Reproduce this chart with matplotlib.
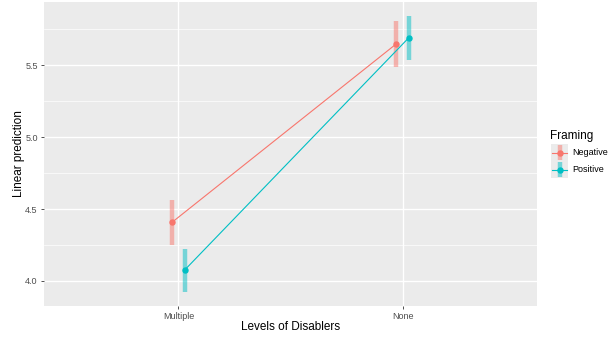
import numpy as np
import matplotlib.pyplot as plt

plt.rcParams['font.family'] = ['Liberation Sans', 'DejaVu Sans']

# data
levels = ['Multiple', 'None']
groups = ['Negative', 'Positive']
pred = {'Negative': [4.41, 5.65], 'Positive': [4.075, 5.69]}
lower = {'Negative': [4.25, 5.49], 'Positive': [3.92, 5.535]}
upper = {'Negative': [4.56, 5.81], 'Positive': [4.22, 5.84]}
colors = {'Negative': '#F8766D', 'Positive': '#00BFC4'}
dodge = {'Negative': -0.027, 'Positive': 0.027}

fig = plt.figure(figsize=(6.12, 3.37), dpi=100)
ax = fig.add_axes([44 / 612, 31 / 337, 493 / 612, 304 / 337])
ax.set_facecolor('#EBEBEB')

xpos = np.arange(1, len(levels) + 1)
for g in groups:
    x = xpos + dodge[g]
    ax.vlines(x, lower[g], upper[g], color=colors[g], lw=3.2, alpha=0.5, zorder=3)
    ax.plot(x, pred[g], color=colors[g], lw=0.8, marker='o', ms=3.6, zorder=4)

ax.set_xticks(xpos)
ax.set_xticklabels(levels)
ax.set_yticks([4.0, 4.5, 5.0, 5.5])
ax.set_yticks([3.75, 4.25, 4.75, 5.25, 5.75], minor=True)
ax.set_xlim(0.4, 2.6)
ax.set_ylim(3.826, 5.94)
ax.grid(True, which='major', color='white', lw=1.0, zorder=0)
ax.grid(True, which='minor', axis='y', color='white', lw=0.5, zorder=0)
ax.set_axisbelow(True)
for s in ax.spines.values():
    s.set_visible(False)
ax.tick_params(which='major', length=2.5, width=0.6, color='#333333',
               labelsize=6.5, labelcolor='#4D4D4D', pad=2)
ax.tick_params(which='minor', length=0)
ax.set_xlabel('Levels of Disablers', fontsize=8.5, labelpad=0)
ax.set_ylabel('Linear prediction', fontsize=8.5)
ax.yaxis.set_label_coords(-0.038, 0.5)

# legend drawn in a pixel-space overlay
lax = fig.add_axes([0, 0, 1, 1], zorder=5)
lax.set_xlim(0, 612)
lax.set_ylim(337, 0)
lax.axis('off')
lax.text(550, 136, 'Framing', fontsize=8.5, va='center', ha='left')
for i, g in enumerate(groups):
    cy = 152.5 + 17 * i
    lax.add_patch(plt.Rectangle((551, cy - 8.5), 17, 17, color='#EBEBEB', lw=0))
    lax.vlines(559.5, cy - 7.5, cy + 7.5, color=colors[g], lw=3.2, alpha=0.5)
    lax.plot([552, 567], [cy, cy], color=colors[g], lw=0.8)
    lax.plot(559.5, cy, marker='o', ms=3.6, color=colors[g])
    lax.text(572, cy, g, fontsize=6.5, va='center', ha='left')

fig.savefig('out.png', dpi=100)
